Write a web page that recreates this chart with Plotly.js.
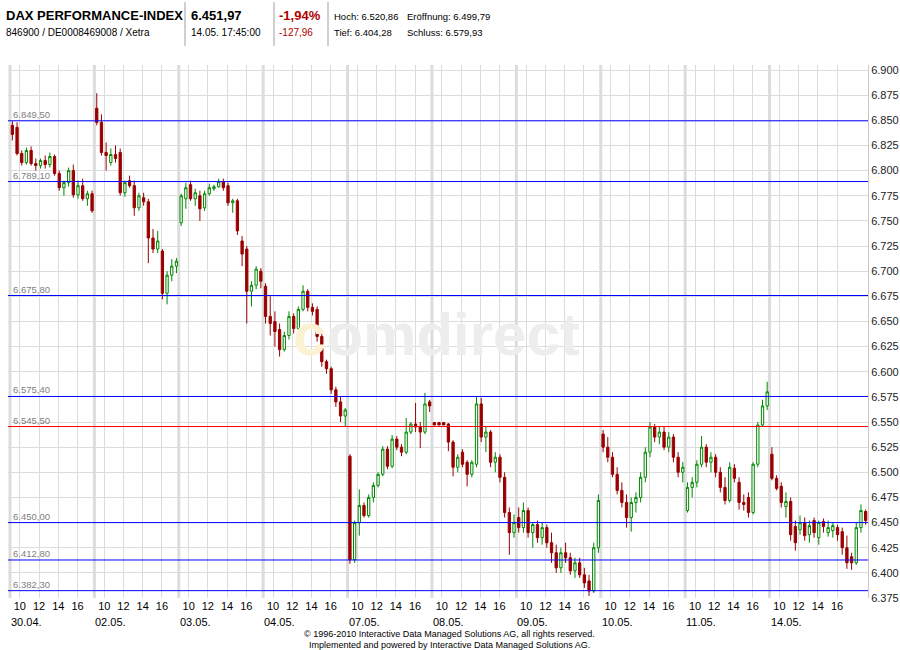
<!DOCTYPE html>
<html><head><meta charset="utf-8">
<script src="https://cdn.plot.ly/plotly-3.0.1.min.js"></script>
<style>html,body{margin:0;padding:0;background:#fff}#chart{width:900px;height:650px}</style>
</head><body><div id="chart"></div>
<script>
// ---------- DATA ----------
const dayLabels = ['30.04.','02.05.','03.05.','04.05.','07.05.','08.05.','09.05.','10.05.','11.05.','14.05.'];
const hourLabels = ['10','12','14','16'];
const levelValues = [6849.5, 6789.1, 6675.8, 6575.4, 6545.5, 6450.0, 6412.8, 6382.3];
const levelLabels = ['6.849,50','6.789,10','6.675,80','6.575,40','6.545,50','6.450,00','6.412,80','6.382,30'];

// 30-minute candles per trading day: [open, high, low, close]
const day_30_04 = [[6845,6849,6830,6836],[6843,6848,6815,6817],[6817,6820,6805,6808],[6808,6823,6806,6820],[6820,6824,6805,6807],[6807,6812,6800,6805],[6805,6812,6802,6810],[6810,6815,6802,6806],[6806,6818,6803,6814],[6814,6816,6795,6797],[6797,6800,6780,6783],[6783,6790,6775,6788],[6788,6803,6784,6800],[6800,6806,6773,6776],[6776,6790,6772,6785],[6785,6792,6770,6772],[6772,6780,6765,6777],[6777,6780,6758,6760]];
const day_02_05 = [[6862,6877,6845,6848],[6848,6856,6815,6818],[6818,6828,6800,6815],[6808,6822,6805,6816],[6816,6825,6808,6812],[6818,6822,6775,6778],[6778,6790,6774,6788],[6790,6795,6783,6785],[6785,6790,6755,6763],[6763,6778,6760,6775],[6773,6778,6765,6769],[6769,6772,6708,6733],[6733,6742,6718,6722],[6722,6740,6718,6730],[6720,6722,6672,6678],[6678,6700,6667,6696],[6696,6712,6690,6705],[6705,6713,6698,6710]];
const day_03_05 = [[6748,6777,6745,6775],[6772,6788,6762,6783],[6786,6790,6770,6772],[6772,6782,6765,6778],[6775,6780,6750,6762],[6763,6780,6760,6777],[6777,6787,6775,6783],[6782,6786,6780,6784],[6784,6792,6783,6789],[6789,6792,6780,6783],[6785,6788,6765,6768],[6768,6772,6758,6770],[6770,6772,6736,6740],[6730,6735,6705,6717],[6722,6725,6648,6680],[6680,6690,6665,6686],[6686,6705,6682,6702],[6700,6703,6683,6690]];
const day_04_05 = [[6685,6688,6648,6655],[6655,6675,6636,6648],[6650,6660,6625,6640],[6642,6648,6615,6622],[6622,6640,6620,6636],[6636,6660,6632,6655],[6655,6658,6638,6643],[6643,6665,6640,6662],[6662,6686,6660,6680],[6680,6682,6660,6664],[6664,6668,6656,6660],[6662,6665,6630,6635],[6635,6640,6605,6610],[6610,6612,6598,6603],[6603,6605,6578,6582],[6582,6585,6565,6570],[6570,6575,6550,6556],[6556,6564,6546,6562]];
const day_07_05 = [[6516,6518,6409,6413],[6413,6452,6410,6450],[6450,6483,6437,6467],[6467,6470,6455,6457],[6457,6478,6455,6475],[6475,6490,6470,6487],[6487,6500,6485,6498],[6498,6526,6496,6523],[6523,6526,6503,6506],[6506,6537,6504,6533],[6533,6536,6522,6525],[6525,6528,6516,6520],[6520,6554,6518,6540],[6540,6550,6538,6548],[6548,6569,6540,6545],[6545,6550,6524,6540],[6540,6579,6538,6568],[6570,6572,6560,6566]];
const day_08_05 = [[6549.5,6549.5,6547,6547],[6549.5,6549.5,6547,6547],[6549.5,6549.5,6547,6547],[6548,6549,6521,6530],[6530,6532,6496,6505],[6505,6518,6500,6515],[6520,6523,6505,6508],[6510,6512,6486,6498],[6498,6512,6495,6510],[6508,6575,6505,6568],[6568,6574,6530,6535],[6535,6545,6520,6540],[6540,6542,6505,6510],[6510,6520,6500,6515],[6515,6518,6490,6495],[6495,6500,6455,6460],[6460,6465,6418,6440],[6440,6458,6435,6450]];
const day_09_05 = [[6455,6465,6440,6445],[6445,6470,6440,6462],[6462,6465,6435,6440],[6440,6450,6425,6448],[6448,6452,6430,6435],[6435,6450,6428,6445],[6445,6448,6425,6430],[6430,6440,6410,6420],[6420,6428,6400,6405],[6405,6425,6400,6420],[6420,6430,6410,6415],[6415,6420,6398,6402],[6402,6415,6395,6410],[6410,6415,6395,6398],[6398,6405,6385,6390],[6392,6398,6377,6382],[6382,6430,6380,6425],[6425,6478,6420,6472]];
const day_10_05 = [[6538,6542,6520,6525],[6525,6535,6510,6515],[6515,6520,6495,6498],[6498,6505,6478,6482],[6482,6490,6465,6470],[6470,6478,6445,6455],[6455,6475,6441,6470],[6470,6480,6460,6475],[6475,6500,6470,6495],[6495,6525,6490,6520],[6520,6550,6515,6545],[6545,6548,6530,6535],[6535,6546,6528,6540],[6540,6545,6522,6525],[6525,6540,6520,6535],[6535,6538,6510,6515],[6515,6520,6495,6500],[6500,6510,6490,6505]];
const day_11_05 = [[6462,6490,6460,6485],[6485,6495,6475,6490],[6490,6512,6485,6508],[6508,6536,6505,6525],[6525,6528,6505,6510],[6510,6520,6500,6515],[6515,6518,6495,6500],[6500,6505,6480,6485],[6485,6495,6468,6472],[6472,6510,6470,6505],[6504,6508,6490,6494],[6490,6495,6463,6470],[6470,6478,6462,6468],[6475,6480,6455,6460],[6460,6510,6458,6508],[6508,6550,6505,6547],[6547,6572,6545,6566],[6566,6590,6562,6580]];
const day_14_05 = [[6518,6525,6492,6494],[6494,6497,6482,6484],[6486,6490,6465,6470],[6466,6480,6455,6471],[6471,6475,6432,6438],[6446,6452,6422,6430],[6443,6457,6438,6450],[6450,6455,6432,6437],[6438,6452,6430,6447],[6452,6455,6435,6440],[6435,6452,6428,6450],[6451,6454,6440,6446],[6440,6452,6436,6445],[6442,6450,6435,6447],[6445,6448,6432,6438],[6441,6445,6418,6425],[6425,6437,6404,6410],[6416,6420,6403,6410],[6410,6450,6408,6445],[6445,6468,6440,6462],[6461,6463,6448,6452]];

const dayCandles = [day_30_04, day_02_05, day_03_05, day_04_05, day_07_05, day_08_05, day_09_05, day_10_05, day_11_05, day_14_05];

// ---------- GEOMETRY ----------
const PL = 8, PR = 868, PT = 65, PB = 598;
const px2x = p => (p - PL) / (PR - PL);
const py2y = p => (PB - p) / (PB - PT);

// ---------- BUILD ----------
const xs = [], op = [], hi = [], lo = [], cl = [];
const dayStarts = [];
let idx = 0;
dayCandles.forEach(day => {
  dayStarts.push(idx - 0.5);
  day.forEach(c => { xs.push(idx); op.push(c[0]); hi.push(c[1]); lo.push(c[2]); cl.push(c[3]); idx++; });
});
const xMax = idx - 0.5;
const xMin = -0.93;

const tickvals = [], ticktext = [];
const hourOffsets = [2.1, 6.2, 10.3, 14.4];
dayStarts.forEach(s => hourOffsets.forEach((o, i) => { tickvals.push(s + o); ticktext.push(hourLabels[i]); }));

const shapes = [];
dayStarts.forEach(s => shapes.push({type:'rect', xref:'x', yref:'paper', x0:s-0.32, x1:s+0.32, y0:0, y1:1, fillcolor:'#dcdcdc', line:{width:0}, layer:'below'}));
const levelColors = ['#0000ff','#0000ff','#0000ff','#0000ff','#ff0000','#0000ff','#0000ff','#0000ff'];
levelValues.forEach((v, i) => shapes.push({type:'line', xref:'paper', yref:'y', x0:0, x1:1, y0:v, y1:v, line:{color:levelColors[i], width:1}, layer:'above'}));
// header separators
[185, 274, 328].forEach(p => shapes.push({type:'line', xref:'paper', yref:'paper', x0:px2x(p), x1:px2x(p), y0:py2y(2), y1:py2y(46), line:{color:'#a0a0a0', width:1}}));

const FONT = 'Liberation Sans, Arial, sans-serif';
const ann = [];
levelValues.forEach((v, i) => ann.push({xref:'paper', yref:'y', x:px2x(11), y:v, text:levelLabels[i], showarrow:false, xanchor:'left', yanchor:'bottom', yshift:-1, font:{family:FONT, size:9.5, color:'#808080'}}));
dayStarts.forEach((s, i) => ann.push({xref:'x', yref:'paper', x:s - 0.2, y:py2y(622), text:dayLabels[i], showarrow:false, xanchor:'left', yanchor:'middle', font:{family:FONT, size:11, color:'#000'}}));

const hdr = (px, py, text, size, color) => ann.push({xref:'paper', yref:'paper', x:px2x(px), y:py2y(py), text, showarrow:false, xanchor:'left', yanchor:'middle', font:{family:FONT, size, color:color||'#000'}});
hdr(4, 15, '<b>DAX PERFORMANCE-INDEX</b>', 13);
hdr(4, 32, '846900 / DE0008469008 / Xetra', 10);
hdr(189, 15, '<b>6.451,97</b>', 13);
hdr(189, 32, '14.05. 17:45:00', 10);
hdr(277, 15, '<b>-1,94%</b>', 13, '#b00000');
hdr(277, 32, '-127,96', 10, '#b00000');
hdr(332, 16, 'Hoch: 6.520,86', 9.5);
hdr(405, 16, 'Eröffnung: 6.499,79', 9.5);
hdr(332, 32, 'Tief: 6.404,28', 9.5);
hdr(405, 32, 'Schluss: 6.579,93', 9.5);

ann.push({xref:'paper', yref:'paper', x:px2x(449), y:py2y(634), text:'© 1996-2010 Interactive Data Managed Solutions AG, all rights reserved.', showarrow:false, xanchor:'center', yanchor:'middle', font:{family:FONT, size:9, color:'#000'}});
ann.push({xref:'paper', yref:'paper', x:px2x(449), y:py2y(645), text:'Implemented and powered by Interactive Data Managed Solutions AG.', showarrow:false, xanchor:'center', yanchor:'middle', font:{family:FONT, size:9, color:'#000'}});
// watermark
ann.push({xref:'paper', yref:'paper', x:px2x(436), y:py2y(334), text:'<span style="color:#fbf2d4">c</span>omdirect', showarrow:false, xanchor:'center', yanchor:'middle', font:{family:FONT, size:60, color:'#ededed', weight:700}});

const trace = {
  type:'candlestick', x:xs, open:op, high:hi, low:lo, close:cl,
  increasing:{line:{color:'#008800', width:1}, fillcolor:'#ffffff'},
  decreasing:{line:{color:'#990000', width:1}, fillcolor:'#990000'},
  whiskerwidth:0, hoverinfo:'skip', showlegend:false
};

const layout = {
  width:900, height:650,
  margin:{l:PL, r:900-PR, t:PT, b:650-PB, pad:0},
  paper_bgcolor:'#ffffff', plot_bgcolor:'#ffffff',
  separators:',.',
  showlegend:false,
  xaxis:{range:[xMin, xMax], tickmode:'array', tickvals, ticktext, showgrid:true, gridcolor:'#dcdcdc', gridwidth:1,
         zeroline:false, showline:false, ticks:'', rangeslider:{visible:false},
         tickfont:{family:FONT, size:11, color:'#000'}, fixedrange:true},
  yaxis:{range:[6375, 6905], side:'right', dtick:25, tick0:6375, tickformat:',d', showgrid:true, gridcolor:'#dcdcdc',
         zeroline:false, showline:true, linecolor:'#c8c8c8', ticks:'', tickfont:{family:FONT, size:11, color:'#222'}, fixedrange:true},
  shapes, annotations:ann, hovermode:false
};
Plotly.newPlot('chart', [trace], layout, {displayModeBar:false, staticPlot:true});
</script></body></html>
